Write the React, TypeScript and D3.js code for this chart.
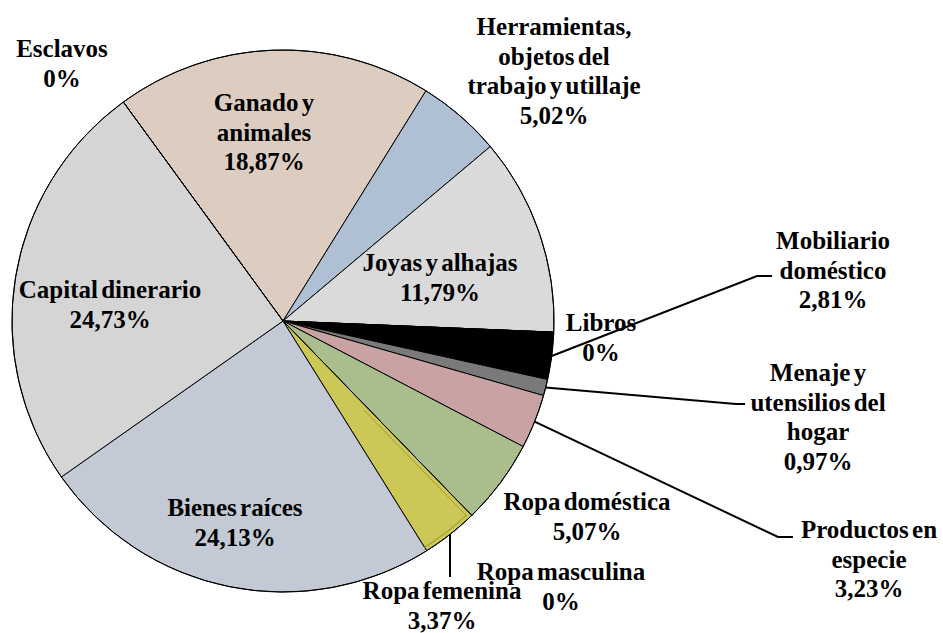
import * as d3 from 'd3'

const categories = [
  'Ganado y animales',
  'Herramientas, objetos del trabajo y utillaje',
  'Joyas y alhajas',
  'Libros',
  'Mobiliario doméstico',
  'Menaje y utensilios del hogar',
  'Productos en especie',
  'Ropa doméstica',
  'Ropa masculina',
  'Ropa femenina',
  'Bienes raíces',
  'Capital dinerario',
  'Esclavos',
]
const values = [18.87, 5.02, 11.79, 0, 2.81, 0.97, 3.23, 5.07, 0, 3.37, 24.13, 24.73, 0]
const colors = ['#dccdc0', '#afc0d5', '#dadada', '#dadada', '#000000', '#7a7a7a', '#c9a3a3', '#aabd8d', '#cbc857', '#cbc857', '#c3cad6', '#d5d5d5', '#d5d5d5']
const labelLines = [
  ['Ganado y', 'animales'],
  ['Herramientas,', 'objetos del', 'trabajo y utillaje'],
  ['Joyas y alhajas'],
  ['Libros'],
  ['Mobiliario', 'doméstico'],
  ['Menaje y', 'utensilios del', 'hogar'],
  ['Productos en', 'especie'],
  ['Ropa doméstica'],
  ['Ropa masculina'],
  ['Ropa femenina'],
  ['Bienes raíces'],
  ['Capital dinerario'],
  ['Esclavos'],
]
// label anchor: centre x, centre y of first line
const labelPos: [number, number][] = [
  [264, 103], [554, 27], [440, 263], [601, 323], [833, 241], [818, 373],
  [869, 530], [587, 502], [561, 572], [442, 591], [235, 508], [110, 290], [62, 49],
]
// leader lines: [index, kinkX, kinkY, endX]
const leaders: [number, number, number, number][] = [
  [4, 757, 276, 772],
  [5, 736, 404, 745],
  [6, 778, 537, 793],
]

const W = 943, H = 633
const cx = 283, cy = 321, R = 271
const start = (-36.1 * Math.PI) / 180
const LH = 29.5

const fmt = (v: number) => (v === 0 ? '0%' : d3.format('.2f')(v).replace('.', ',') + '%')

export default function App() {
  const data = categories.map((c, i) => ({ c, v: values[i], i }))
  const pie = d3.pie<any>().value(d => d.v).sort(null).startAngle(start).endAngle(start + 2 * Math.PI)
  const arcs = pie(data)
  const arc = d3.arc<any>().innerRadius(0).outerRadius(R)
  const edge = d3.arc<any>().innerRadius(R).outerRadius(R)
  const font = { fontFamily: "'Liberation Serif', 'Times New Roman', serif", fontWeight: 700, fontSize: 25, wordSpacing: -3 }
  const line = d3.line()

  // ropa masculina leader: vertical drop from the arc
  const mascX = 450
  const mascY = cy + Math.sqrt(R * R - (mascX - cx) ** 2)

  // thin inset outline of the (empty) ropa masculina slice inside ropa femenina
  const fem = arcs[9]
  const ri = R - 4
  const a0 = fem.startAngle
  const off = 4 / ri
  const pt = (a: number, r: number): [number, number] => [cx + r * Math.sin(a), cy - r * Math.cos(a)]
  const insetArc = d3.arc<any>().innerRadius(ri).outerRadius(ri)({ startAngle: a0 + off, endAngle: fem.endAngle } as any) || ''

  return (
    <svg width={W} height={H} style={{ position: 'absolute', left: 0, top: 0, background: '#fff' }}>
      <g transform={`translate(${cx},${cy})`}>
        {arcs.map(a => (
          <path key={a.data.c} d={arc(a) || ''} fill={colors[a.data.i]} stroke="#000" strokeWidth={1} strokeLinejoin="round" />
        ))}
        <path d={insetArc} fill="none" stroke="#a09d30" strokeWidth={1} />
        <circle r={R} fill="none" stroke="#000" strokeWidth={1} />
      </g>
      <path d={line([pt(a0 + off, ri), pt(a0 + 4 / 120, 120)]) || ''} fill="none" stroke="#a09d30" strokeWidth={1} />
      {leaders.map(([i, kx, ky, ex]) => {
        const [px, py] = edge.centroid(arcs[i])
        return <path key={i} d={line([[px + cx, py + cy], [kx, ky], [ex, ky]]) || ''} fill="none" stroke="#000" strokeWidth={2} />
      })}
      <path d={line([[mascX, mascY], [mascX, 577]]) || ''} stroke="#000" strokeWidth={2} fill="none" />
      {data.map(d => {
        const [x, y] = labelPos[d.i]
        const lines = [...labelLines[d.i], fmt(d.v)]
        return (
          <text key={d.c} x={x} y={y + 8} textAnchor="middle" fill="#000" style={font}>
            {lines.map((t, k) => (
              <tspan key={k} x={x} y={y + 8 + k * LH}>{t}</tspan>
            ))}
          </text>
        )
      })}
    </svg>
  )
}
